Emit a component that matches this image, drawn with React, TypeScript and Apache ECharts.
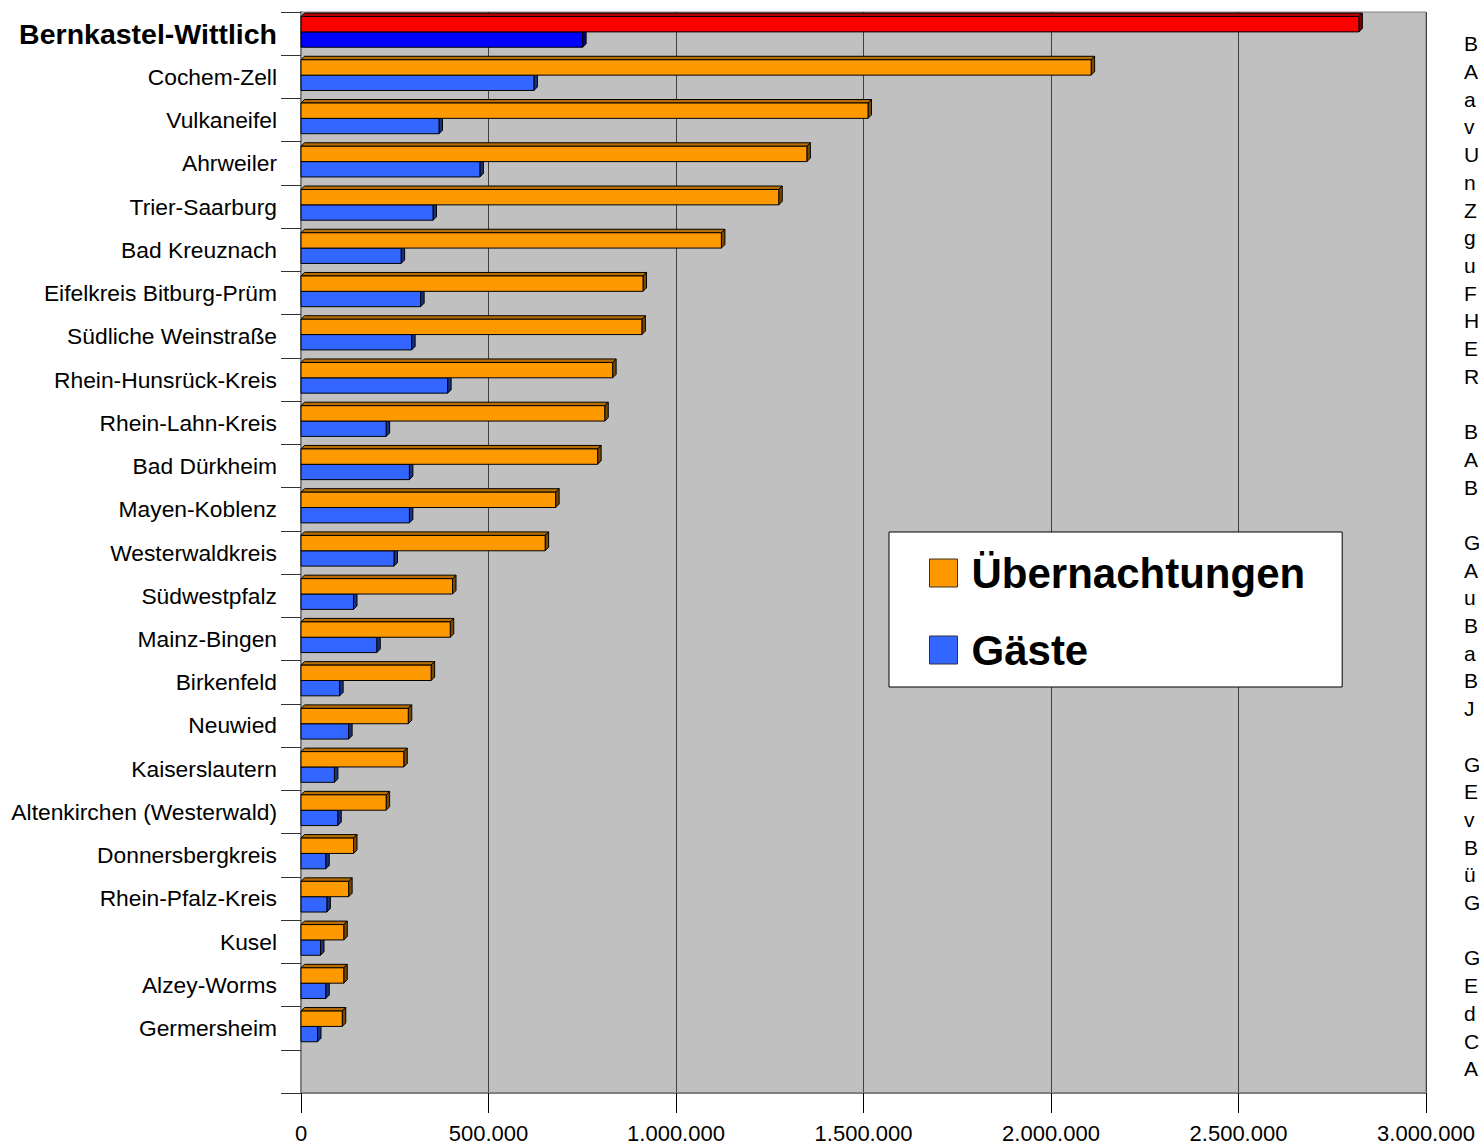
import React, { useEffect, useRef } from 'react';
import * as echarts from 'echarts';

const categories = [
  'Bernkastel-Wittlich', 'Cochem-Zell', 'Vulkaneifel', 'Ahrweiler', 'Trier-Saarburg', 'Bad Kreuznach',
  'Eifelkreis Bitburg-Prüm', 'Südliche Weinstraße', 'Rhein-Hunsrück-Kreis', 'Rhein-Lahn-Kreis',
  'Bad Dürkheim', 'Mayen-Koblenz', 'Westerwaldkreis', 'Südwestpfalz', 'Mainz-Bingen', 'Birkenfeld',
  'Neuwied', 'Kaiserslautern', 'Altenkirchen (Westerwald)', 'Donnersbergkreis', 'Rhein-Pfalz-Kreis',
  'Kusel', 'Alzey-Worms', 'Germersheim', '',
];

const uebernachtungen = [
  2821000, 2107000, 1512000, 1349000, 1274000, 1121000, 912000, 909000, 831000, 810000,
  791000, 679000, 651000, 404000, 398000, 347000, 286000, 274000, 227000, 140000,
  127000, 114000, 114000, 110000,
];

const gaeste = [
  751000, 621000, 368000, 477000, 352000, 267000, 319000, 295000, 391000, 227000,
  289000, 289000, 248000, 140000, 202000, 103000, 127000, 89000, 98000, 66000,
  69000, 52000, 66000, 44000,
];

const seriesNames = ['Übernachtungen', 'Gäste'];

const sideTextLines = [
  'B', 'A', 'a', 'v', 'U', 'n', 'Z', 'g', 'u', 'F', 'H', 'E', 'R', '',
  'B', 'A', 'B', '',
  'G', 'A', 'u', 'B', 'a', 'B', 'J', '',
  'G', 'E', 'v', 'B', 'ü', 'G', '',
  'G', 'E', 'd', 'C', 'A',
];

const FONT = '"Liberation Sans", Arial, Helvetica, sans-serif';

const palette = [
  { front: '#ff9900', top: '#b86e00', side: '#7a4a00' },
  { front: '#3366ff', top: '#2447b3', side: '#1a3380' },
];
const highlight = [
  { front: '#ff0000', top: '#b30000', side: '#7a0000' },
  { front: '#0000ff', top: '#0000b3', side: '#000080' },
];

function fmt(v: number): string {
  return String(v).replace(/\B(?=(\d{3})+(?!\d))/g, '.');
}

function makeRender(s: number) {
  return (params: any, api: any) => {
    const val = api.value(0) as number;
    const idx = api.value(1) as number;
    const base = api.coord([0, idx]);
    const end = api.coord([val, idx]);
    const band = (api.size([0, 1]) as number[])[1];
    const h = band * 0.355;
    const y = base[1] - band * 0.395 + (s === 1 ? h : 0);
    const x0 = base[0];
    const x1 = end[0];
    const d = 3.5;
    const c = idx === 0 ? highlight[s] : palette[s];
    const stroke = { stroke: '#000', lineWidth: 1 };
    return {
      type: 'group',
      children: [
        {
          type: 'polygon',
          shape: { points: [[x0, y], [x0 + d, y - d], [x1 + d, y - d], [x1, y]] },
          style: { fill: c.top, ...stroke },
        },
        {
          type: 'polygon',
          shape: { points: [[x1, y], [x1 + d, y - d], [x1 + d, y + h - d], [x1, y + h]] },
          style: { fill: c.side, ...stroke },
        },
        {
          type: 'rect',
          shape: { x: x0, y, width: x1 - x0, height: h },
          style: { fill: c.front, ...stroke },
        },
      ],
    };
  };
}

export default function App() {
  const ref = useRef<HTMLDivElement>(null);
  useEffect(() => {
    if (!ref.current) return;
    const chart = echarts.init(ref.current, undefined, { renderer: 'svg' });
    const option: any = {
      animation: false,
      backgroundColor: '#ffffff',
      textStyle: { fontFamily: FONT },
      grid: {
        left: 301,
        right: 53,
        top: 12,
        bottom: 52,
        show: true,
        backgroundColor: '#c0c0c0',
        borderColor: '#808080',
        borderWidth: 1,
        containLabel: false,
        outerBoundsMode: 'none',
      },
      xAxis: {
        type: 'value',
        min: 0,
        max: 3000000,
        interval: 500000,
        axisLine: { show: true, lineStyle: { color: '#808080', width: 2 } },
        axisTick: { show: true, length: 20, lineStyle: { color: '#000', width: 1 } },
        axisLabel: {
          margin: 29,
          fontSize: 22,
          color: '#000',
          fontFamily: FONT,
          formatter: (v: number) => fmt(v),
        },
        splitLine: { show: true, lineStyle: { color: '#404040', width: 1 } },
      },
      yAxis: {
        type: 'category',
        data: categories,
        inverse: true,
        axisLine: { show: true, lineStyle: { color: '#808080', width: 2 } },
        axisTick: { show: true, length: 20, lineStyle: { color: '#333', width: 1 } },
        axisLabel: {
          margin: 24,
          fontSize: 22.8,
          color: '#000',
          fontFamily: FONT,
          interval: 0,
          formatter: (v: string, i: number) => (i === 0 ? `{b|${v}}` : v),
          rich: {
            b: { fontSize: 28.5, fontWeight: 'bold', color: '#000', fontFamily: FONT },
          },
        },
        splitLine: { show: false },
      },
      legend: {
        left: 889,
        top: 532,
        orient: 'vertical',
        selectedMode: false,
        backgroundColor: '#ffffff',
        borderColor: '#000',
        borderWidth: 1,
        padding: [20, 37, 16, 40],
        itemGap: 35,
        itemWidth: 28,
        itemHeight: 28,
        icon: 'rect',
        textStyle: {
          fontSize: 42,
          fontWeight: 'bold',
          color: '#000',
          fontFamily: FONT,
          padding: [0, 0, 0, 9],
        },
        data: [
          { name: seriesNames[0], itemStyle: { color: palette[0].front, borderColor: '#333', borderWidth: 1 } },
          { name: seriesNames[1], itemStyle: { color: palette[1].front, borderColor: '#333', borderWidth: 1 } },
        ],
      },
      graphic: [
        {
          type: 'text',
          left: 1464,
          top: 30,
          z: 10,
          style: {
            text: sideTextLines.join('\n'),
            font: `21px ${FONT}`,
            fill: '#000',
            lineHeight: 27.7,
          },
        },
      ],
      series: [
        {
          name: seriesNames[0],
          type: 'custom',
          z: 3,
          itemStyle: { color: palette[0].front },
          encode: { x: 0, y: 1 },
          data: uebernachtungen.map((v, i) => [v, i]),
          renderItem: makeRender(0),
        },
        {
          name: seriesNames[1],
          type: 'custom',
          z: 2,
          itemStyle: { color: palette[1].front },
          encode: { x: 0, y: 1 },
          data: gaeste.map((v, i) => [v, i]),
          renderItem: makeRender(1),
        },
      ],
    };
    chart.setOption(option);
    return () => chart.dispose();
  }, []);
  return (
    <div
      ref={ref}
      style={{ position: 'fixed', left: 0, top: 0, width: 1479, height: 1145, background: '#fff' }}
    />
  );
}
